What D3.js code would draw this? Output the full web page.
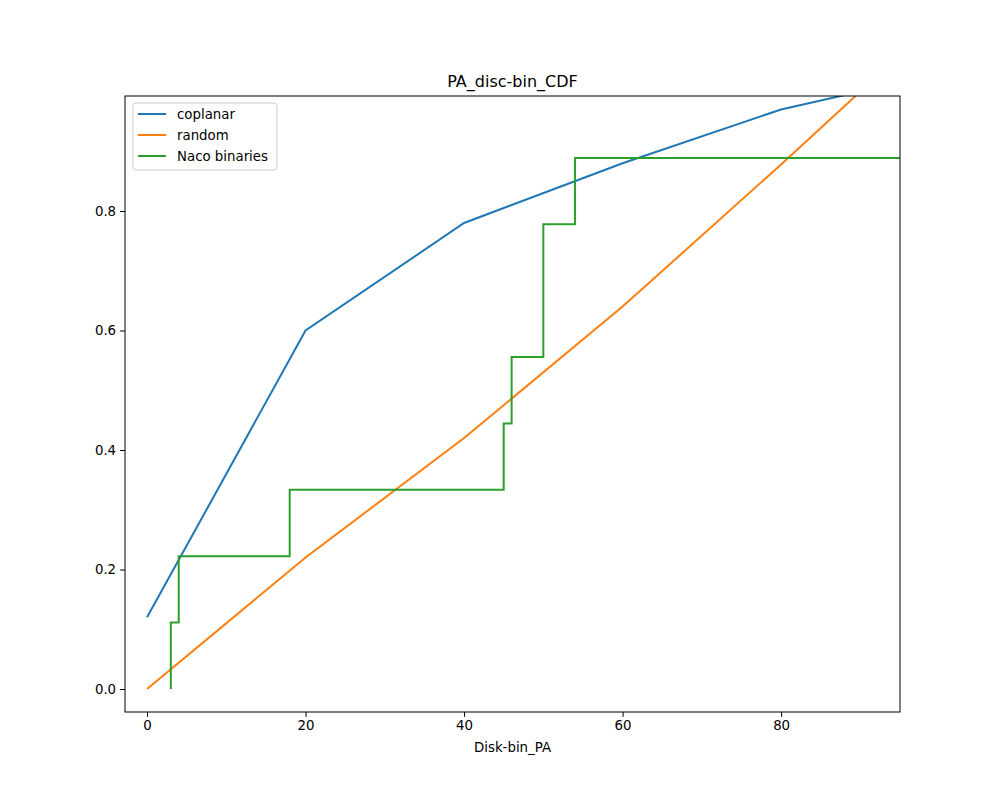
<!DOCTYPE html>
<html>
<head>
<meta charset="utf-8">
<style>
  body { margin: 0; background: #fff; font-family: "DejaVu Sans", sans-serif; }
</style>
<script src="https://cdn.jsdelivr.net/npm/d3@7"></script>
</head>
<body>
<svg id="chart"></svg>
<script>
// ---------- data ----------
var coplanarX = [0, 20, 40, 60, 80, 90];
var coplanarY = [0.12, 0.60, 0.78, 0.88, 0.97, 1.0];
var randomX = [0, 20, 40, 60, 80, 90];
var randomY = [0.0, 0.22, 0.42, 0.64, 0.878, 1.0];
// step curve (vertical then horizontal)
var nacoX = [3, 4, 18, 45, 46, 50, 54, 100];
var nacoY = [0, 1/9, 2/9, 3/9, 4/9, 5/9, 7/9, 8/9];
var xTicks = [0, 20, 40, 60, 80];
var yTicks = [0.0, 0.2, 0.4, 0.6, 0.8];
var seriesNames = ['coplanar', 'random', 'Naco binaries'];
var seriesColors = ['#1f77b4', '#ff7f0e', '#2ca02c'];

var W = 1000, H = 800;
var margin = {top: 96, right: 100, bottom: 88, left: 125};
var width = W - margin.left - margin.right,
    height = H - margin.top - margin.bottom;

var svg = d3.select('#chart').attr('width', W).attr('height', H);
var g = svg.append('g').attr('transform', `translate(${margin.left},${margin.top})`);

var x = d3.scaleLinear().domain([-2.78, 95]).range([0, width]);
var y = d3.scaleLinear().domain([-0.0385, 0.9925]).range([height, 0]);

g.append('clipPath').attr('id', 'clip')
  .append('rect').attr('width', width).attr('height', height);

var line = d3.line().x(d => x(d[0])).y(d => y(d[1]));
var stepLine = d3.line().x(d => x(d[0])).y(d => y(d[1])).curve(d3.curveStepBefore);

var plot = g.append('g').attr('clip-path', 'url(#clip)');
plot.append('path').datum(d3.zip(coplanarX, coplanarY))
  .attr('d', line).attr('fill', 'none').attr('stroke', seriesColors[0]).attr('stroke-width', 2);
plot.append('path').datum(d3.zip(randomX, randomY))
  .attr('d', line).attr('fill', 'none').attr('stroke', seriesColors[1]).attr('stroke-width', 2);
plot.append('path').datum(d3.zip(nacoX, nacoY))
  .attr('d', stepLine).attr('fill', 'none').attr('stroke', seriesColors[2]).attr('stroke-width', 2);

// axes
var xAxis = g.append('g').attr('transform', `translate(0,${height})`)
  .call(d3.axisBottom(x).tickValues(xTicks).tickFormat(d3.format('d')).tickSizeOuter(0).tickSize(4.9).tickPadding(4));
var yAxis = g.append('g')
  .call(d3.axisLeft(y).tickValues(yTicks).tickFormat(d3.format('.1f')).tickSizeOuter(0).tickSize(4.9).tickPadding(4));
[xAxis, yAxis].forEach(a => {
  a.select('.domain').remove();
  a.selectAll('text').attr('font-size', 13.33).attr('font-family', '"DejaVu Sans", sans-serif').attr('fill', '#000');
  a.selectAll('line').attr('stroke', '#000').attr('stroke-width', 1);
});

// frame
g.append('rect').attr('width', width).attr('height', height)
  .attr('fill', 'none').attr('stroke', '#000').attr('stroke-width', 1);

// title and label
g.append('text').text('PA_disc-bin_CDF')
  .attr('x', width / 2).attr('y', -9).attr('text-anchor', 'middle')
  .attr('font-size', 16).attr('fill', '#000');
g.append('text').text('Disk-bin_PA')
  .attr('x', width / 2).attr('y', height + 40).attr('text-anchor', 'middle')
  .attr('font-size', 13.33).attr('fill', '#000');

// legend
var leg = g.append('g').attr('transform', 'translate(8,7)');
leg.append('rect').attr('width', 144).attr('height', 67).attr('rx', 3)
  .attr('fill', '#fff').attr('fill-opacity', 0.8).attr('stroke', '#ccc');
seriesNames.forEach((name, i) => {
  var yy = 11 + i * 21;
  leg.append('line').attr('x1', 5).attr('x2', 33).attr('y1', yy).attr('y2', yy)
    .attr('stroke', seriesColors[i]).attr('stroke-width', 2);
  leg.append('text').text(name).attr('x', 44).attr('y', yy + 5)
    .attr('font-size', 13.33).attr('fill', '#000');
});
</script>
</body>
</html>
